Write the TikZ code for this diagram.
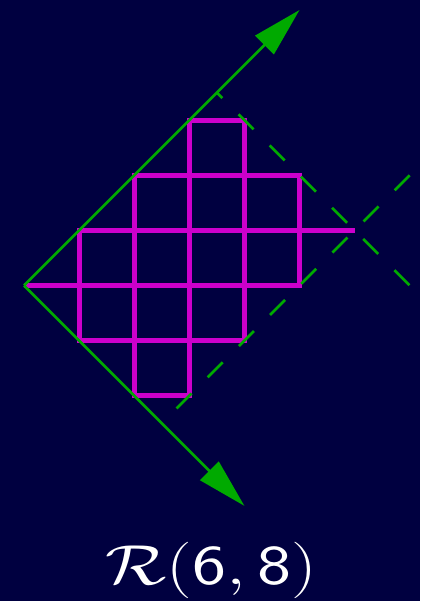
\documentclass[tikz,border=0pt]{standalone}
\usepackage{xcolor}
\definecolor{navy}{HTML}{000040}
\definecolor{cellcol}{HTML}{CC00CC}
\definecolor{axiscol}{HTML}{00AA00}
\usepackage{tikz}
\usetikzlibrary{arrows.meta}

\begin{document}
\begin{tikzpicture}[
  cell/.style={draw=cellcol, line width=2.6pt, line join=miter},
  extra/.style={draw=cellcol, line width=2.6pt},
  axis/.style={draw=axiscol, line width=1.4pt,
               -{Triangle[length=0.9cm, width=0.47cm]}},
  guide/.style={draw=axiscol, line width=1.4pt,
                dash pattern=on 0.385cm off 0.415cm},
  label/.style={text=white, font=\Huge},
]
  % Cadre
  \useasboundingbox (-0.436,-5.726) rectangle (7.187,5.181);
  \fill[navy] (-0.436,-5.726) rectangle (7.187,5.181);

  % Points
  \coordinate (O) at (0,0);
  \coordinate (up) at (5,5);
  \coordinate (down) at (4,-4);
  \coordinate (p) at (3.5,3.5);
  \coordinate (q) at (2.5,-2.5);
  \coordinate (pend) at (7.6,-0.6);
  \coordinate (qend) at (7.6,2.6);

  % Cases
  \foreach \x/\y in {3/2, 2/1, 3/1, 4/1, 1/0, 2/0, 3/0, 4/0, 1/-1, 2/-1, 3/-1, 2/-2}
    \draw[cell] (\x,\y) rectangle ++(1,1);
  \draw[extra] (O) -- (1,0);
  \draw[extra] (5,1) -- (6,1);

  % Axes
  \draw[axis] (O) -- (up);
  \draw[axis] (O) -- (down);

  % Bords
  \draw[guide, dash phase=0.244cm] (p) -- (pend);
  \draw[guide, dash phase=0.421cm] (q) -- (qend);

  % Nom
  \node[label, anchor=base] (name) at (3.4,-5.435)
    {\scalebox{1.5}[1.17]{$\mathcal{R}(\mathsf{6},\mathsf{8})$}};
\end{tikzpicture}
\end{document}
